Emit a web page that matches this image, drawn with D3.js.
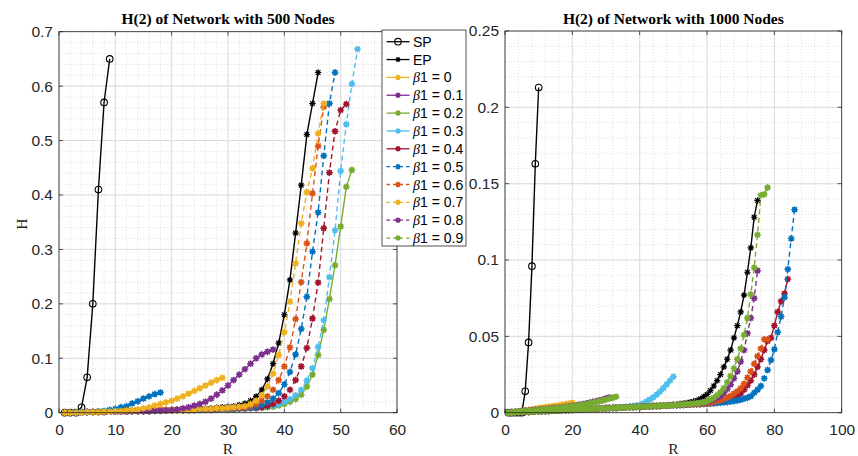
<!DOCTYPE html>
<html><head><meta charset="utf-8">
<script src="https://cdn.jsdelivr.net/npm/d3@7"></script>
<style>body{margin:0;background:#fff}</style>
</head><body>
<svg id="chart" width="858" height="456"></svg>
<script>
// ---------------- DATA (R starts at 1, step 1) ----------------
const xTicksLeft = [0,10,20,30,40,50,60];
const yTicksLeft = [0,0.1,0.2,0.3,0.4,0.5,0.6,0.7];
const yTickLabelsLeft = ["0","0.1","0.2","0.3","0.4","0.5","0.6","0.7"];
const xTicksRight = [0,20,40,60,80,100];
const yTicksRight = [0,0.05,0.1,0.15,0.2,0.25];
const yTickLabelsRight = ["0","0.05","0.1","0.15","0.2","0.25"];
const titles = ["H(2) of Network with 500 Nodes","H(2) of Network with 1000 Nodes"];
const legendLabels = ["SP","EP","β1 = 0","β1 = 0.1","β1 = 0.2","β1 = 0.3","β1 = 0.4","β1 = 0.5","β1 = 0.6","β1 = 0.7","β1 = 0.8","β1 = 0.9"];

// 500 nodes
const left_SP = [0,0,0,0.01,0.065,0.2,0.41,0.57,0.65];
const left_EP = [0,0,0.001,0.001,0.001,0.001,0.002,0.002,0.002,0.002,
 0.003,0.003,0.003,0.003,0.004,0.004,0.004,0.004,0.005,0.005,
 0.005,0.006,0.006,0.006,0.007,0.007,0.008,0.009,0.010,0.011,
 0.012,0.014,0.017,0.022,0.030,0.042,0.062,0.090,0.128,0.180,
 0.244,0.330,0.418,0.511,0.568,0.625];
const left_b00 = [0,0,0,0,0.001,0.001,0.001,0.002,0.002,0.003,
 0.003,0.004,0.005,0.006,0.008,0.010,0.013,0.016,0.019,0.022,
 0.026,0.030,0.035,0.040,0.045,0.050,0.055,0.060,0.064];
const left_b01 = [0,0,0,0,0.001,0.001,0.001,0.001,0.002,0.002,
 0.002,0.002,0.003,0.003,0.003,0.003,0.004,0.004,0.004,0.005,
 0.006,0.008,0.010,0.013,0.016,0.020,0.026,0.033,0.041,0.050,
 0.060,0.070,0.080,0.090,0.100,0.107,0.112,0.116];
const left_blueShort = [0,0,0,0.001,0.001,0.001,0.002,0.003,0.005,0.007,
 0.010,0.012,0.017,0.021,0.026,0.030,0.034,0.037];
const left_b02 = [0,0,0,0.001,0.001,0.001,0.001,0.001,0.002,0.002,
 0.002,0.002,0.002,0.003,0.003,0.003,0.003,0.003,0.004,0.004,
 0.004,0.004,0.004,0.005,0.005,0.005,0.005,0.006,0.006,0.006,
 0.006,0.007,0.007,0.008,0.008,0.009,0.010,0.011,0.013,0.016,
 0.020,0.025,0.033,0.048,0.070,0.106,0.152,0.209,0.271,0.342,
 0.415,0.446];
const left_b03 = [0,0,0,0.001,0.001,0.001,0.001,0.002,0.002,0.002,
 0.002,0.002,0.003,0.003,0.003,0.003,0.003,0.004,0.004,0.004,
 0.004,0.005,0.005,0.005,0.005,0.006,0.006,0.006,0.006,0.007,
 0.007,0.007,0.008,0.008,0.009,0.010,0.011,0.013,0.016,0.020,
 0.025,0.032,0.042,0.059,0.082,0.121,0.170,0.249,0.335,0.444,
 0.530,0.604,0.668];
const left_b04 = [0,0,0,0.001,0.001,0.001,0.001,0.002,0.002,0.002,
 0.002,0.003,0.003,0.003,0.003,0.003,0.004,0.004,0.004,0.004,
 0.005,0.005,0.005,0.005,0.006,0.006,0.006,0.006,0.007,0.007,
 0.007,0.008,0.008,0.009,0.009,0.010,0.012,0.016,0.022,0.030,
 0.042,0.060,0.085,0.119,0.173,0.239,0.339,0.441,0.517,0.556,
 0.567];
const left_b05 = [0,0,0,0.001,0.001,0.001,0.002,0.002,0.002,0.002,
 0.003,0.003,0.003,0.003,0.004,0.004,0.004,0.004,0.005,0.005,
 0.005,0.005,0.006,0.006,0.006,0.007,0.007,0.007,0.007,0.008,
 0.008,0.009,0.009,0.010,0.011,0.014,0.019,0.026,0.036,0.052,
 0.075,0.107,0.154,0.213,0.296,0.368,0.472,0.568,0.625];
const left_b06 = [0,0,0,0.001,0.001,0.001,0.002,0.002,0.002,0.002,
 0.003,0.003,0.003,0.003,0.004,0.004,0.004,0.005,0.005,0.005,
 0.005,0.006,0.006,0.006,0.007,0.007,0.007,0.008,0.008,0.008,
 0.009,0.009,0.010,0.012,0.016,0.022,0.030,0.042,0.060,0.085,
 0.120,0.172,0.240,0.311,0.403,0.490,0.562];
const left_b07 = [0,0,0.001,0.001,0.001,0.001,0.002,0.002,0.002,0.002,
 0.003,0.003,0.003,0.003,0.004,0.004,0.004,0.004,0.005,0.005,
 0.005,0.006,0.006,0.006,0.007,0.007,0.007,0.008,0.008,0.009,
 0.010,0.011,0.012,0.016,0.022,0.032,0.048,0.072,0.106,0.148,
 0.204,0.274,0.348,0.405,0.449,0.513,0.568];

// 1000 nodes
const right_SP = [0,0,0,0,0,0.014,0.046,0.096,0.163,0.213];
const right_EP = [0,0.0002,0.0003,0.0004,0.0005,0.0006,0.0007,0.0008,0.0009,0.001,
 0.0011,0.0012,0.0013,0.0014,0.0015,0.0016,0.0017,0.0018,0.0019,0.002,
 0.0021,0.0022,0.0023,0.0024,0.0025,0.0026,0.0027,0.0028,0.0029,0.003,
 0.0031,0.0032,0.0033,0.0034,0.0035,0.0036,0.0037,0.0038,0.0039,0.004,
 0.0041,0.0042,0.0043,0.0044,0.0045,0.0046,0.0047,0.0048,0.0050,0.0052,
 0.0054,0.0057,0.0060,0.0064,0.0068,0.0073,0.0080,0.0090,0.0105,0.0120,
 0.0145,0.0175,0.0210,0.0250,0.0300,0.0350,0.0410,0.0490,0.0570,0.0660,
 0.0770,0.0920,0.1080,0.1280,0.1390];
const right_b00 = [0,0.0003,0.0006,0.0009,0.0012,0.0015,0.0018,0.0021,0.0025,0.003,
 0.0033,0.0036,0.0039,0.0042,0.0045,0.0048,0.0052,0.0056,0.006,0.0065];
const right_b01 = [0,0.0003,0.0006,0.0009,0.0011,0.0013,0.0015,0.0017,0.0019,0.0021,
 0.0023,0.0025,0.0027,0.0029,0.0031,0.0033,0.0035,0.0038,0.0041,0.0044,
 0.0048,0.0052,0.0056,0.006,0.0065,0.007,0.0075,0.008,0.0086,0.0093,0.01];
const right_b02 = [0,0.0003,0.0005,0.0007,0.0009,0.0011,0.0013,0.0015,0.0017,0.0019,
 0.0021,0.0023,0.0025,0.0027,0.0029,0.0031,0.0033,0.0036,0.0039,0.0042,
 0.0045,0.0048,0.0052,0.0056,0.006,0.0065,0.007,0.0075,0.008,0.0086,
 0.0092,0.0098,0.0105];
const right_b03 = [0,0.0002,0.0003,0.0004,0.0005,0.0006,0.0007,0.0008,0.0009,0.001,
 0.0011,0.0012,0.0013,0.0014,0.0015,0.0016,0.0017,0.0018,0.0019,0.002,
 0.0021,0.0022,0.0023,0.0024,0.0025,0.0026,0.0027,0.0028,0.0029,0.003,
 0.0031,0.0032,0.0033,0.0034,0.0036,0.0038,0.004,0.0043,0.0046,0.005,
 0.006,0.0072,0.0086,0.010,0.0118,0.0138,0.016,0.0185,0.021,0.0236];
const right_b04 = [0,0.0001,0.0002,0.0003,0.0004,0.0005,0.0006,0.0007,0.0008,0.0009,
 0.001,0.0011,0.0012,0.0013,0.0014,0.0015,0.0016,0.0017,0.0018,0.0019,
 0.002,0.0021,0.0022,0.0023,0.0024,0.0025,0.0026,0.0027,0.0028,0.0029,
 0.003,0.0031,0.0032,0.0033,0.0034,0.0035,0.0036,0.0037,0.0038,0.0039,
 0.004,0.0041,0.0042,0.0043,0.0044,0.0045,0.0046,0.0047,0.0048,0.0049,
 0.005,0.0051,0.0052,0.0053,0.0054,0.0055,0.0056,0.0057,0.0058,0.006,
 0.0062,0.0064,0.0066,0.0069,0.0073,0.0078,0.0085,0.0095,0.0108,0.0125,
 0.0150,0.0180,0.0210,0.0250,0.0300,0.0350,0.0410,0.0470,0.0490,0.0570,
 0.0660,0.0730,0.0780,0.0875];
const right_b05 = [0,0.0001,0.0002,0.0003,0.0004,0.0005,0.0006,0.0007,0.0008,0.0009,
 0.001,0.0011,0.0012,0.0013,0.0014,0.0015,0.0016,0.0017,0.0018,0.0019,
 0.002,0.0021,0.0022,0.0023,0.0024,0.0025,0.0026,0.0027,0.0028,0.0029,
 0.003,0.0031,0.0032,0.0033,0.0034,0.0035,0.0036,0.0037,0.0038,0.0039,
 0.004,0.0041,0.0042,0.0043,0.0044,0.0045,0.0046,0.0047,0.0048,0.0049,
 0.005,0.0051,0.0052,0.0053,0.0054,0.0055,0.0056,0.0057,0.0058,0.0059,
 0.006,0.0062,0.0064,0.0066,0.0068,0.007,0.0073,0.0076,0.008,0.0085,
 0.0092,0.0098,0.0108,0.013,0.015,0.0175,0.0225,0.028,0.0345,0.0415,
 0.0527,0.063,0.0755,0.094,0.114,0.133];
const right_b06 = [0,0.0001,0.0002,0.0003,0.0004,0.0005,0.0006,0.0007,0.0008,0.0009,
 0.001,0.0011,0.0012,0.0013,0.0014,0.0015,0.0016,0.0017,0.0018,0.0019,
 0.002,0.0021,0.0022,0.0023,0.0024,0.0025,0.0026,0.0027,0.0028,0.0029,
 0.003,0.0031,0.0032,0.0033,0.0034,0.0035,0.0036,0.0037,0.0038,0.0039,
 0.004,0.0041,0.0042,0.0043,0.0044,0.0045,0.0046,0.0047,0.0048,0.0049,
 0.005,0.0051,0.0052,0.0053,0.0054,0.0055,0.0056,0.0058,0.006,0.0062,
 0.0065,0.007,0.0076,0.0083,0.009,0.0098,0.011,0.0125,0.014,0.016,
 0.019,0.023,0.027,0.032,0.037,0.042,0.048,0.048];
const right_b08 = [0,0.0001,0.0002,0.0003,0.0004,0.0005,0.0006,0.0007,0.0008,0.0009,
 0.001,0.0011,0.0012,0.0013,0.0014,0.0015,0.0016,0.0017,0.0018,0.0019,
 0.002,0.0021,0.0022,0.0023,0.0024,0.0025,0.0026,0.0027,0.0028,0.0029,
 0.003,0.0031,0.0032,0.0033,0.0034,0.0035,0.0036,0.0037,0.0038,0.0039,
 0.004,0.0041,0.0042,0.0043,0.0044,0.0045,0.0046,0.0047,0.0048,0.0049,
 0.0051,0.0052,0.0053,0.0055,0.0057,0.0059,0.0061,0.0063,0.0066,0.007,
 0.0078,0.0087,0.0098,0.011,0.013,0.0155,0.0185,0.0225,0.027,0.0335,
 0.041,0.052,0.062,0.075,0.093];
const right_b09 = [0,0.0001,0.0002,0.0003,0.0004,0.0005,0.0006,0.0007,0.0008,0.0009,
 0.001,0.0011,0.0012,0.0013,0.0014,0.0015,0.0016,0.0017,0.0018,0.0019,
 0.002,0.0021,0.0022,0.0023,0.0024,0.0025,0.0026,0.0027,0.0028,0.0029,
 0.003,0.0031,0.0032,0.0033,0.0034,0.0035,0.0036,0.0037,0.0038,0.0039,
 0.004,0.0041,0.0042,0.0043,0.0044,0.0045,0.0046,0.0047,0.0048,0.0049,
 0.0052,0.0053,0.0054,0.0056,0.0058,0.006,0.0062,0.0065,0.0068,0.0075,
 0.0085,0.0098,0.0115,0.0135,0.016,0.020,0.024,0.029,0.035,0.042,
 0.051,0.062,0.0775,0.095,0.1165,0.1425,0.143,0.1475];

// ---------------- STYLE ----------------
const C = {yellow:"#EDB120", purple:"#7E2F8E", green:"#77AC30", lblue:"#4DBEEE",
           red:"#A2142F", blue:"#0072BD", orange:"#D95319", black:"#000000"};
const DASH = "5,3.5";

const leftSeries = [
  {v:left_SP, c:C.black, d:null, m:"circle"},
  {v:left_EP, c:C.black, d:null, m:"star"},
  {v:left_b02, c:C.green, d:null, m:"blob"},
  {v:left_b03, c:C.lblue, d:DASH, m:"blob"},
  {v:left_b04, c:C.red, d:DASH, m:"blob"},
  {v:left_b05, c:C.blue, d:DASH, m:"blob"},
  {v:left_b06, c:C.orange, d:DASH, m:"blob"},
  {v:left_b07, c:C.yellow, d:DASH, m:"blob"},
  {v:left_b01, c:C.purple, d:null, m:"blob"},
  {v:left_blueShort, c:C.blue, d:null, m:"blob"},
  {v:left_b00, c:C.yellow, d:null, m:"blob"}
];
const rightSeries = [
  {v:right_SP, c:C.black, d:null, m:"circle"},
  {v:right_EP, c:C.black, d:null, m:"star"},
  {v:right_b00, c:C.yellow, d:null, m:"blob"},
  {v:right_b01, c:C.purple, d:null, m:"blob"},
  {v:right_b03, c:C.lblue, d:null, m:"blob"},
  {v:right_b04, c:C.red, d:null, m:"blob"},
  {v:right_b05, c:C.blue, d:DASH, m:"blob"},
  {v:right_b06, c:C.orange, d:DASH, m:"blob"},
  {v:right_b08, c:C.purple, d:DASH, m:"blob"},
  {v:right_b02, c:C.green, d:null, m:"blob"},
  {v:right_b09, c:C.green, d:DASH, m:"blob"}
];
const legendStyles = [
  {c:C.black,d:null,m:"circle"},{c:C.black,d:null,m:"star"},
  {c:C.yellow,d:null,m:"blob"},{c:C.purple,d:null,m:"blob"},{c:C.green,d:null,m:"blob"},
  {c:C.lblue,d:null,m:"blob"},{c:C.red,d:null,m:"blob"},{c:C.blue,d:"3.5,3",m:"blob"},
  {c:C.orange,d:"3.5,3",m:"blob"},{c:C.yellow,d:"3.5,3",m:"blob"},{c:C.purple,d:"3.5,3",m:"blob"},
  {c:C.green,d:"3.5,3",m:"blob"}
];

const svg = d3.select("#chart");
svg.append("rect").attr("width",858).attr("height",456).attr("fill","#fff");
const AX = "#262626";
const SANS = "'Liberation Sans', Arial, sans-serif";
const SERIF = "'Liberation Serif', 'Times New Roman', serif";

function asteriskPath(r){
  const k = r*0.72;
  return `M${-r},0L${r},0M0,${-r}L0,${r}M${-k},${-k}L${k},${k}M${-k},${k}L${k},${-k}`;
}
function drawMarker(g, type, color, cx, cy, small){
  if(type==="circle"){
    g.append("circle").attr("cx",cx).attr("cy",cy).attr("r",3.3)
      .attr("fill","none").attr("stroke",color).attr("stroke-width",1.1);
  } else if(type==="star"){
    g.append("circle").attr("cx",cx).attr("cy",cy).attr("r",1.7).attr("fill",color);
    g.append("path").attr("d",asteriskPath(small?2.6:3.2)).attr("transform",`translate(${cx},${cy})`)
      .attr("stroke",color).attr("stroke-width",1.2).attr("fill","none");
  } else {
    g.append("circle").attr("cx",cx).attr("cy",cy).attr("r",small?2:2.5).attr("fill",color);
    g.append("path").attr("d",asteriskPath(small?2.8:3.4)).attr("transform",`translate(${cx},${cy})`)
      .attr("stroke",color).attr("stroke-width",1.4).attr("fill","none");
  }
}

function panel(cfg, idx){
  const g = svg.append("g");
  const x = d3.scaleLinear().domain(cfg.xDomain).range([cfg.left,cfg.right]);
  const y = d3.scaleLinear().domain(cfg.yDomain).range([cfg.bottom,cfg.top]);
  // minor grid
  const xm = d3.range(cfg.xDomain[0], cfg.xDomain[1]+1e-9, cfg.xMinor);
  const ym = d3.range(0, cfg.yDomain[1]+1e-9, cfg.yMinor);
  g.selectAll(".mx").data(xm).join("line")
    .attr("x1",d=>x(d)).attr("x2",d=>x(d)).attr("y1",cfg.top).attr("y2",cfg.bottom)
    .attr("stroke","#c8c8c8").attr("stroke-width",0.6).attr("stroke-dasharray","1,2");
  g.selectAll(".my").data(ym).join("line")
    .attr("y1",d=>y(d)).attr("y2",d=>y(d)).attr("x1",cfg.left).attr("x2",cfg.right)
    .attr("stroke","#c8c8c8").attr("stroke-width",0.6).attr("stroke-dasharray","1,2");
  // major grid
  g.selectAll(".gx").data(cfg.xTicks).join("line")
    .attr("x1",d=>x(d)).attr("x2",d=>x(d)).attr("y1",cfg.top).attr("y2",cfg.bottom)
    .attr("stroke","#dcdcdc").attr("stroke-width",1);
  g.selectAll(".gy").data(cfg.yTicks).join("line")
    .attr("y1",d=>y(d)).attr("y2",d=>y(d)).attr("x1",cfg.left).attr("x2",cfg.right)
    .attr("stroke","#dcdcdc").attr("stroke-width",1);

  // axes via d3 axis
  const xAxis = d3.axisBottom(x).tickValues(cfg.xTicks).tickSize(0).tickPadding(11).tickFormat(d3.format("d"));
  const gx = g.append("g").attr("transform",`translate(0,${cfg.bottom})`).call(xAxis);
  gx.select(".domain").remove();
  gx.selectAll("text").attr("font-family",SANS).attr("font-size",15.5).attr("fill",AX);
  const yAxis = d3.axisLeft(y).tickValues(cfg.yTicks).tickSize(0).tickPadding(6)
    .tickFormat((d,i)=>cfg.yLabels[i]);
  const gy = g.append("g").attr("transform",`translate(${cfg.left},0)`).call(yAxis);
  gy.select(".domain").remove();
  gy.selectAll("text").attr("font-family",SANS).attr("font-size",15.5).attr("fill",AX);

  // inward tick marks
  const tl = 4;
  cfg.xTicks.forEach(t=>{
    g.append("line").attr("x1",x(t)).attr("x2",x(t)).attr("y1",cfg.bottom).attr("y2",cfg.bottom-tl).attr("stroke",AX).attr("stroke-width",0.8);
    g.append("line").attr("x1",x(t)).attr("x2",x(t)).attr("y1",cfg.top).attr("y2",cfg.top+tl).attr("stroke",AX).attr("stroke-width",0.8);
  });
  cfg.yTicks.forEach(t=>{
    g.append("line").attr("y1",y(t)).attr("y2",y(t)).attr("x1",cfg.left).attr("x2",cfg.left+tl).attr("stroke",AX).attr("stroke-width",0.8);
    g.append("line").attr("y1",y(t)).attr("y2",y(t)).attr("x1",cfg.right).attr("x2",cfg.right-tl).attr("stroke",AX).attr("stroke-width",0.8);
  });

  // clip
  const cid = "clip"+idx;
  svg.append("clipPath").attr("id",cid).append("rect")
    .attr("x",cfg.left-5).attr("y",cfg.top-5).attr("width",cfg.right-cfg.left+10).attr("height",cfg.bottom-cfg.top+10);
  const plot = g.append("g").attr("clip-path",`url(#${cid})`);

  const line = d3.line().x((d,i)=>x(i+1)).y(d=>y(d));
  cfg.series.forEach(s=>{
    const sg = plot.append("g");
    sg.append("path").attr("d",line(s.v)).attr("fill","none").attr("stroke",s.c)
      .attr("stroke-width",1.4).attr("stroke-dasharray",s.d);
    s.v.forEach((val,i)=>drawMarker(sg, s.m, s.c, x(i+1), y(val)));
  });

  // box
  g.append("rect").attr("x",cfg.left).attr("y",cfg.top).attr("width",cfg.right-cfg.left)
    .attr("height",cfg.bottom-cfg.top).attr("fill","none").attr("stroke",AX).attr("stroke-width",0.8);

  // title
  g.append("text").attr("x",(cfg.left+cfg.right)/2).attr("y",23.5).attr("text-anchor","middle")
    .attr("font-family",SERIF).attr("font-weight","bold").attr("font-size",15.5).attr("fill","#000")
    .text(cfg.title);
  // x label
  g.append("text").attr("x",(cfg.left+cfg.right)/2).attr("y",454).attr("text-anchor","middle")
    .attr("font-family",SERIF).attr("font-size",15.5).attr("fill",AX).text("R");
  if(cfg.ylabel){
    g.append("text").attr("transform",`translate(27,${(cfg.top+cfg.bottom)/2+2}) rotate(-90)`)
      .attr("text-anchor","middle").attr("font-family",SERIF).attr("font-size",15.5).attr("fill",AX).text(cfg.ylabel);
  }
}

panel({left:59,right:397,top:31.7,bottom:412.7,xDomain:[0,60],yDomain:[0,0.7],
  xTicks:xTicksLeft,yTicks:yTicksLeft,yLabels:yTickLabelsLeft,xMinor:2,yMinor:0.02,
  series:leftSeries,title:titles[0],ylabel:"H"},0);
panel({left:505,right:841.7,top:31,bottom:412.7,xDomain:[0,100],yDomain:[0,0.25],
  xTicks:xTicksRight,yTicks:yTicksRight,yLabels:yTickLabelsRight,xMinor:4,yMinor:0.01,
  series:rightSeries,title:titles[1],ylabel:null},1);

// legend
const lg = svg.append("g");
lg.append("rect").attr("x",382).attr("y",30).attr("width",84).attr("height",216)
  .attr("fill","#fff").attr("stroke",AX).attr("stroke-width",0.8);
legendLabels.forEach((lab,i)=>{
  const yy = 41.7 + i*17.85;
  const st = legendStyles[i];
  lg.append("line").attr("x1",386.5).attr("x2",409.5).attr("y1",yy).attr("y2",yy)
    .attr("stroke",st.c).attr("stroke-width",1.3).attr("stroke-dasharray",st.d);
  drawMarker(lg, st.m, st.c, 398, yy, true);
  const t = lg.append("text").attr("x",413).attr("y",yy).attr("dy","0.36em")
    .attr("font-family",SANS).attr("font-size",14).attr("fill","#000");
  if(lab.startsWith("β")){
    t.append("tspan").attr("font-style","italic").attr("font-family",SERIF).text("β");
    t.append("tspan").text(lab.slice(1));
  } else t.text(lab);
});
</script>
</body></html>
